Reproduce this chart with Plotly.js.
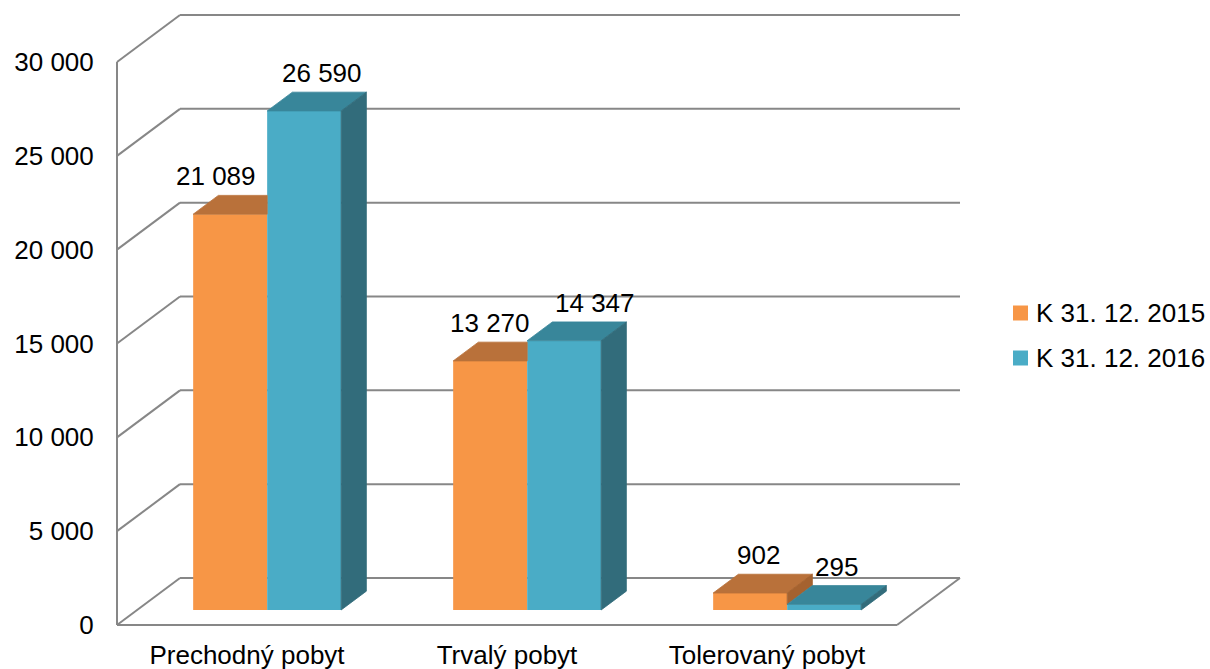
<!DOCTYPE html>
<html>
<head>
<meta charset="utf-8">
<script src="https://cdn.plot.ly/plotly-3.0.1.min.js"></script>
<style>html,body{margin:0;padding:0;background:#fff;}#chart{width:1210px;height:669px;}</style>
</head>
<body>
<div id="chart"></div>
<script>
// ---- data ----
const categories = ['Prechodný pobyt', 'Trvalý pobyt', 'Tolerovaný pobyt'];
const seriesNames = ['K 31. 12. 2015', 'K 31. 12. 2016'];
const values2015 = [21089, 13270, 902];
const values2016 = [26590, 14347, 295];
const yTickValues = [0, 5000, 10000, 15000, 20000, 25000, 30000];

// ---- styling / geometry ----
const FONT = 'Liberation Sans, Arial, sans-serif';
const FS = 26;
const frontColors = ['#F79646', '#4AACC6'];
const topColors = ['#B9713A', '#38869A'];
const sideColors = ['#A5622F', '#326C7B'];
const gridColor = '#878787';
const CAT_PX = 260;            // pixels per category
const K = 563 / 30000;         // pixels per value unit
const DX = 63 / CAT_PX;        // full depth, x units
const DV = 47 / K;             // full depth, value units
const D1 = 0.32, D2 = 0.72;    // bar depth position (front/back)
const W = 74 / CAT_PX;         // bar width
const M = {l: 110, r: 240, t: 6, b: 37};
const plotW = 1210 - M.l - M.r, plotH = 669 - M.t - M.b;
const cat0px = 247 - M.l;
const zeroPxFromBottom = 7;
const xRange = [-cat0px / CAT_PX, (plotW - cat0px) / CAT_PX];
const yRange = [-zeroPxFromBottom / K, (plotH - zeroPxFromBottom) / K];
const labelNudgeX = [[-27, -13, -4], [5, 18, 0]];
const legendPx = {boxX: 1013, boxSize: 15, textX: 1034, rowY: [313, 358]};

const series = [values2015, values2016];
const fmt = v => String(v).replace(/\B(?=(\d{3})+(?!\d))/g, ' ');
const idx = categories.map((c, i) => i);
const b1 = D1 * DV, b2 = D2 * DV, dd = (D2 - D1) * DX;
const px2paperX = px => (px - M.l) / plotW;
const px2paperY = py => (669 - M.b - py) / plotH;

const traces = [];
series.forEach((vals, s) => {
  traces.push({
    type: 'bar', x: idx, y: vals, base: vals.map(() => b1),
    offset: D1 * DX - W + s * W, width: W,
    name: seriesNames[s],
    marker: {color: frontColors[s], line: {width: 0}},
    hoverinfo: 'skip', showlegend: false
  });
});
const annotations = [];
idx.forEach(i => {
  series.forEach((vals, s) => {
    const V = vals[i];
    const xl = i + D1 * DX - W + s * W, xr = xl + W;
    const Vn = s < series.length - 1 ? series[s + 1][i] : null;
    let tx;
    const ty = [V + b1, V + b1, V + b2, V + b2, V + b1];
    if (Vn !== null && Vn >= V) tx = [xl, xr, xr, xl + dd, xl];
    else tx = [xl, xr, xr + dd, xl + dd, xl];
    traces.push({type: 'scatter', mode: 'lines', x: tx, y: ty, fill: 'toself',
      fillcolor: topColors[s], line: {color: topColors[s], width: 0.8},
      showlegend: false, hoverinfo: 'skip'});
    const lo = Vn !== null ? Math.min(Vn, V) : 0;
    if (V > lo) {
      traces.push({type: 'scatter', mode: 'lines',
        x: [xr, xr, xr + dd, xr + dd, xr],
        y: [lo + b1, V + b1, V + b2, lo + b2, lo + b1], fill: 'toself',
        fillcolor: sideColors[s], line: {color: sideColors[s], width: 0.8},
        showlegend: false, hoverinfo: 'skip'});
    }
    annotations.push({
      x: (xl + xr) / 2 + dd / 2, y: V + b2, xref: 'x', yref: 'y',
      text: fmt(V), showarrow: false, yanchor: 'bottom', yshift: 2,
      xshift: labelNudgeX[s][i],
      font: {family: FONT, size: FS, color: '#000'}
    });
  });
});

const shapes = [];
// manual legend
seriesNames.forEach((name, s) => {
  const cy = legendPx.rowY[s];
  shapes.push({type: 'rect', xref: 'paper', yref: 'paper',
    x0: px2paperX(legendPx.boxX), x1: px2paperX(legendPx.boxX + legendPx.boxSize),
    y0: px2paperY(cy - legendPx.boxSize / 2), y1: px2paperY(cy + legendPx.boxSize / 2),
    fillcolor: frontColors[s], line: {width: 0}});
  annotations.push({xref: 'paper', yref: 'paper', x: px2paperX(legendPx.textX), y: px2paperY(cy),
    xanchor: 'left', yanchor: 'middle', text: name, showarrow: false,
    font: {family: FONT, size: FS, color: '#000'}});
});

// walls / grid
const xFront0 = -0.5, xFront1 = categories.length - 0.5;
const ln = (x0, y0, x1, y1) => ({type: 'line', xref: 'x', yref: 'y', x0, y0, x1, y1,
  layer: 'below', line: {color: gridColor, width: 2}});
yTickValues.forEach(v => {
  shapes.push(ln(xFront0 + DX, v + DV, xFront1 + DX, v + DV));
  shapes.push(ln(xFront0, v, xFront0 + DX, v + DV));
});
shapes.push(ln(xFront0, 0, xFront0, yTickValues[yTickValues.length - 1]));
shapes.push(ln(xFront0, 0, xFront1, 0));
shapes.push(ln(xFront1, 0, xFront1 + DX, DV));

const layout = {
  width: 1210, height: 669,
  margin: M,
  paper_bgcolor: '#fff', plot_bgcolor: 'rgba(0,0,0,0)',
  separators: ', ',
  font: {family: FONT, size: FS, color: '#000'},
  barmode: 'overlay',
  showlegend: false,
  xaxis: {type: 'linear', range: xRange, tickvals: idx, ticktext: categories,
    showgrid: false, zeroline: false, showline: false,
    ticks: 'outside', ticklen: 0, tickcolor: 'rgba(0,0,0,0)',
    tickfont: {family: FONT, size: FS, color: '#000'}, fixedrange: true, automargin: false},
  yaxis: {type: 'linear', range: yRange, tickvals: yTickValues, tickformat: ',d',
    showgrid: false, zeroline: false, showline: false,
    ticks: 'outside', ticklen: 10, tickcolor: 'rgba(0,0,0,0)',
    tickfont: {family: FONT, size: FS, color: '#000'}, fixedrange: true, automargin: false},
  shapes: shapes,
  annotations: annotations
};

Plotly.newPlot('chart', traces, layout, {displayModeBar: false, staticPlot: true});
</script>
</body>
</html>
